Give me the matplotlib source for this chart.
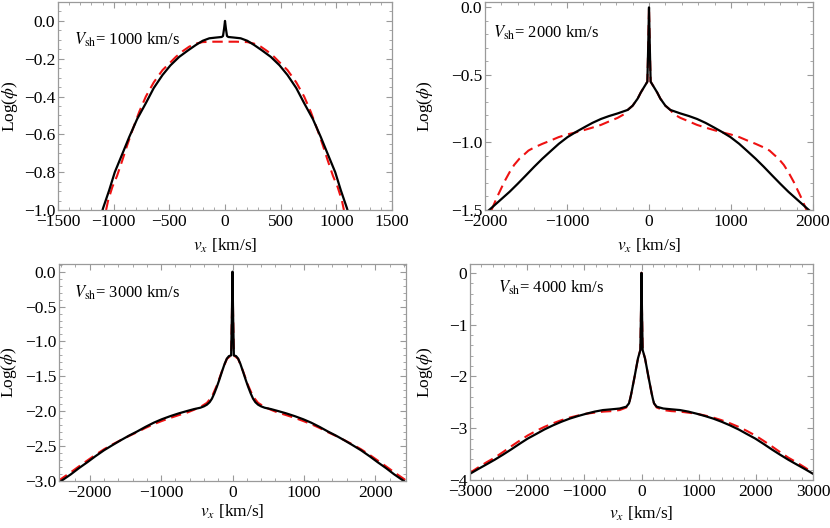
import numpy as np
import matplotlib
matplotlib.use('Agg')
import matplotlib.pyplot as plt
from matplotlib.ticker import MultipleLocator, FuncFormatter

plt.rcParams['font.family'] = ['Liberation Serif', 'DejaVu Serif']
plt.rcParams['mathtext.fontset'] = 'stix'
plt.rcParams['axes.unicode_minus'] = True

# right half of each curve (v_x >= 0), profiles are symmetric about v_x = 0
# V_sh = 1000 km/s
v1_solid = [0, 8, 18, 30, 80, 141, 200, 261, 330, 411, 490, 561, 640, 711, 790,
            861, 920, 990, 1040, 1095, 1100]
y1_solid = [0.0, -0.04, -0.08, -0.085, -0.088, -0.092, -0.105, -0.127, -0.155, -0.19,
            -0.235, -0.286, -0.355, -0.435, -0.52, -0.615, -0.70, -0.80, -0.895, -0.99, -1.0]
v1_dash = [0, 100, 200, 261, 321, 380, 441, 500, 561, 640, 711, 770, 831, 880, 921,
           970, 1011, 1050, 1068]
y1_dash = [-0.11, -0.11, -0.112, -0.12, -0.136, -0.16, -0.19, -0.225, -0.26, -0.325,
           -0.40, -0.48, -0.577, -0.66, -0.735, -0.82, -0.877, -0.95, -1.0]

# V_sh = 2000 km/s
v2_solid = [0, 10, 20, 57, 100, 138, 200, 260, 383, 490, 586, 690, 790, 890, 993,
            1100, 1197, 1300, 1400, 1500, 1603, 1700, 1807, 1940, 1950]
y2_solid = [0.0, -0.3, -0.55, -0.587, -0.63, -0.675, -0.728, -0.759, -0.785, -0.805,
            -0.826, -0.855, -0.888, -0.922, -0.96, -1.01, -1.063, -1.12, -1.18, -1.243,
            -1.307, -1.365, -1.423, -1.495, -1.5]
v2_dash = [0, 10, 20, 57, 100, 138, 200, 260, 301, 383, 490, 586, 690, 790, 890, 993,
           1100, 1197, 1300, 1400, 1470, 1522, 1580, 1644, 1700, 1766, 1810, 1848, 1921]
y2_dash = [0.0, -0.3, -0.55, -0.587, -0.63, -0.675, -0.728, -0.759, -0.79, -0.818,
           -0.845, -0.87, -0.89, -0.908, -0.925, -0.94, -0.96, -0.985, -1.01, -1.037,
           -1.06, -1.089, -1.12, -1.166, -1.22, -1.293, -1.35, -1.398, -1.5]

# V_sh = 3000 km/s
v3_solid = [0, 8, 19, 50, 79, 110, 149, 185, 219, 255, 288, 320, 358, 400, 451, 540,
            637, 750, 870, 990, 1102, 1220, 1335, 1450, 1567, 1680, 1800, 1920, 2032,
            2150, 2265, 2400]
y3_solid = [0.0, -0.6, -1.2, -1.21, -1.246, -1.32, -1.437, -1.55, -1.65, -1.745, -1.82,
            -1.87, -1.906, -1.93, -1.95, -1.97, -1.997, -2.03, -2.07, -2.115, -2.164,
            -2.225, -2.29, -2.35, -2.417, -2.485, -2.56, -2.645, -2.73, -2.815, -2.905, -3.0]
v3_dash = [0, 8, 19, 79, 149, 219, 288, 358, 451, 540, 637, 750, 870, 990, 1102, 1220,
           1335, 1450, 1567, 1680, 1800, 1920, 2032, 2150, 2265, 2400, 2440]
y3_dash = [0.0, -0.6, -1.2, -1.25, -1.43, -1.63, -1.79, -1.88, -1.94, -1.98, -2.02,
           -2.055, -2.095, -2.14, -2.185, -2.24, -2.3, -2.355, -2.415, -2.475, -2.545,
           -2.625, -2.705, -2.79, -2.875, -2.97, -3.0]

# V_sh = 4000 km/s
v4_solid = [0, 8, 20, 61, 90, 120, 150, 178, 200, 219, 265, 382, 520, 673, 820, 965,
            1110, 1256, 1400, 1548, 1700, 1839, 1990, 2131, 2280, 2422, 2570, 2714, 2860, 3000]
y4_solid = [0.0, -0.7, -1.49, -1.65, -1.82, -2.0, -2.17, -2.33, -2.44, -2.52, -2.585,
            -2.62, -2.635, -2.65, -2.68, -2.72, -2.765, -2.815, -2.875, -2.945, -3.025,
            -3.11, -3.2, -3.30, -3.41, -3.51, -3.61, -3.70, -3.79, -3.88]
v4_dash = [0, 8, 20, 61, 90, 120, 150, 178, 200, 219, 265, 382, 520, 673, 820, 965,
           1110, 1256, 1400, 1548, 1700, 1839, 1990, 2131, 2280, 2422, 2570, 2714, 2860, 3000]
y4_dash = [0.0, -0.7, -1.49, -1.65, -1.82, -2.0, -2.17, -2.33, -2.44, -2.52, -2.6,
           -2.65, -2.67, -2.68, -2.7, -2.72, -2.755, -2.795, -2.845, -2.905, -2.975,
           -3.05, -3.14, -3.24, -3.35, -3.46, -3.57, -3.66, -3.76, -3.86]

shock_speeds = [1000, 2000, 3000, 4000]


def mirror(v, y):
    '''build the full symmetric profile from the v >= 0 half'''
    v = np.asarray(v, dtype=float)
    y = np.asarray(y, dtype=float)
    vv = np.concatenate((-v[::-1], v[1:]))
    yy = np.concatenate((y[::-1], y[1:]))
    return vv, yy


def minus_fmt(fmt):
    # proper minus sign, like the original figure
    def f(val, pos):
        s = fmt % val
        if s.startswith('-') and float(s) == 0:
            s = s[1:]
        return s.replace('-', '\u2212')
    return FuncFormatter(f)


W, H = 830, 528
fig = plt.figure(figsize=(W / 100, H / 100), dpi=100)

# panel boxes in pixels: left, top, right, bottom
boxes = [(58, 2, 392, 210), (485, 2, 813, 210), (59, 264, 406, 481), (470, 264, 813, 480)]
xlims = [(-1500, 1500), (-2000, 2000), (-2430, 2430), (-3000, 3000)]
ylims = [(-1.0, 0.1), (-1.5, 0.04), (-3.0, 0.11), (-4.0, 0.17)]
xmaj = [500, 1000, 1000, 1000]
xmin = [100, 200, 200, 200]
ymaj = [0.2, 0.5, 0.5, 1.0]
ymin = [0.05, 0.1, 0.1, 0.2]
yfmt = ['%.1f', '%.1f', '%.1f', '%d']
text_pos = [(0.048, 0.82), (0.025, 0.85), (0.043, 0.866), (0.082, 0.89)]
ylab_x = [-0.113, -0.152, -0.114, -0.102]
xlab_y = [-0.13, -0.13, -0.101, -0.116]

solids = [(v1_solid, y1_solid), (v2_solid, y2_solid), (v3_solid, y3_solid), (v4_solid, y4_solid)]
dashes = [(v1_dash, y1_dash), (v2_dash, y2_dash), (v3_dash, y3_dash), (v4_dash, y4_dash)]

frame_col = '#9a9a9a'

for i in range(4):
    l, t, r, b = boxes[i]
    ax = fig.add_axes([l / W, 1 - b / H, (r - l) / W, (b - t) / H])

    vd, yd = mirror(*dashes[i])
    vs, ys = mirror(*solids[i])
    ax.plot(vd, yd, color='#ee1111', lw=1.5, ls=(0, (5, 2.8)))
    ax.plot(vs, ys, color='k', lw=1.6)

    ax.set_xlim(xlims[i])
    ax.set_ylim(ylims[i])
    ax.xaxis.set_major_locator(MultipleLocator(xmaj[i]))
    ax.xaxis.set_minor_locator(MultipleLocator(xmin[i]))
    ax.yaxis.set_major_locator(MultipleLocator(ymaj[i]))
    ax.yaxis.set_minor_locator(MultipleLocator(ymin[i]))
    ax.xaxis.set_major_formatter(minus_fmt('%d'))
    ax.yaxis.set_major_formatter(minus_fmt(yfmt[i]))

    ax.tick_params(which='both', direction='in', top=True, right=True,
                   color=frame_col, labelsize=12.5)
    ax.tick_params(axis='x', pad=3)
    ax.tick_params(axis='y', pad=2)
    ax.tick_params(which='major', length=4, width=0.8)
    ax.tick_params(which='minor', length=2, width=0.6)
    for s in ax.spines.values():
        s.set_color(frame_col)
        s.set_linewidth(0.9)

    ax.set_xlabel(r'$v_x$ [km/s]', fontsize=12.5)
    ax.set_ylabel(r'Log($\phi$)', fontsize=12.5)
    ax.xaxis.set_label_coords(0.5, xlab_y[i])
    ax.yaxis.set_label_coords(ylab_x[i], 0.5)

    ax.text(text_pos[i][0], text_pos[i][1], r'$V_{\rm sh}$= %d km/s' % shock_speeds[i],
            transform=ax.transAxes, fontsize=12, va='center', ha='left')

plt.savefig('out.png', dpi=100)
